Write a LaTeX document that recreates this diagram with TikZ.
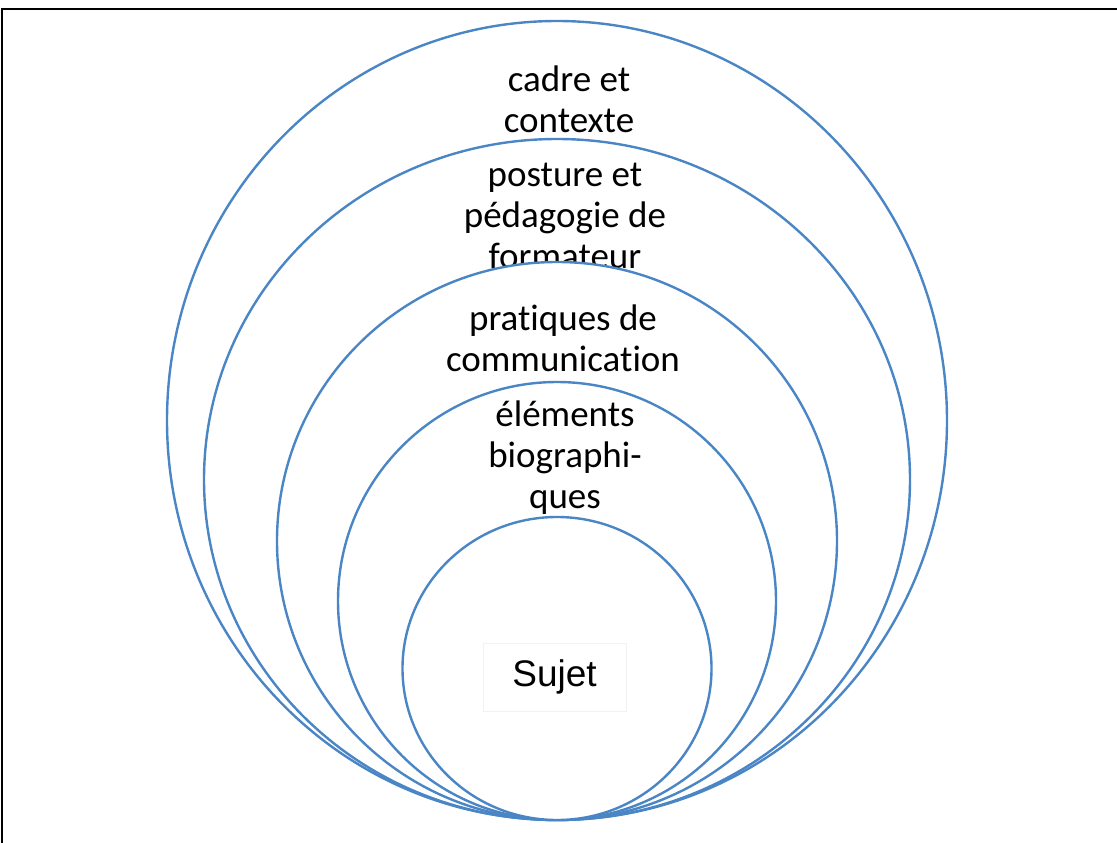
\documentclass[tikz,border=0pt]{standalone}
\usepackage{fontspec}
\setmainfont[Ligatures=NoCommon]{Carlito}
\newfontfamily\arialfont{Liberation Sans}
\definecolor{ringblue}{HTML}{4A86C5}
\definecolor{boxgray}{HTML}{F2F2F2}
\begin{document}
\begin{tikzpicture}[x=1pt,y=-1pt,
  ring/.style={draw=ringblue,line width=2.4pt,fill=white},
  lbl/.style={align=center,inner sep=0pt,font=\fontsize{37}{41}\selectfont},
  frame/.style={draw=black,line width=2pt}]
\useasboundingbox (0,0) rectangle (1117,843);
% frame (top and left edges)
\coordinate (ftl) at (1.5,9);
\coordinate (ftr) at (1117,9);
\coordinate (fbl) at (1.5,843);
\draw[frame] (fbl) -- (ftl) -- (ftr);
% rings, each drawn over the text of the previous one
\draw[ring] (557,420.5) ellipse [x radius=390,y radius=399.5];
\node[lbl] (cadre) at (569,99) {cadre et\\contexte};
\draw[ring] (557,479.5) ellipse [x radius=353,y radius=340.5];
\node[lbl] (posture) at (565,216) {posture et\\pédagogie de\\formateur};
\draw[ring] (557,541) ellipse [x radius=280,y radius=279];
\node[lbl] (pratiques) at (563,338) {pratiques de\\communication};
\draw[ring] (557,601) ellipse [x radius=219,y radius=219];
\node[lbl] (elements) at (565,458) {éléments\\biographi-\\ques};
\draw[ring] (557,668.5) ellipse [x radius=154.5,y radius=151.5];
\node[draw=boxgray,line width=0.8pt,minimum width=143pt,minimum height=68pt,
  font=\arialfont\fontsize{37}{42}\selectfont] (sujet) at (554.5,677) {Sujet};
\end{tikzpicture}
\end{document}
